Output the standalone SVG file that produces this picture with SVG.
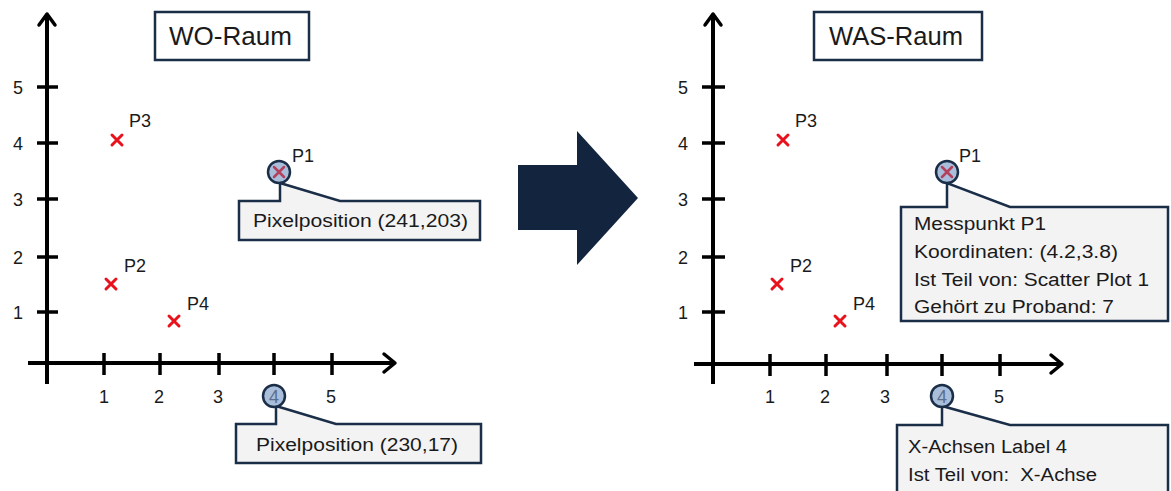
<svg xmlns="http://www.w3.org/2000/svg" xmlns:xlink="http://www.w3.org/1999/xlink" width="1171" height="491" viewBox="0 0 1171 491">
  <style>
    text { font-family: "Liberation Sans", Arial, sans-serif; fill: #1a1a1a; }
    .axis { stroke: #000; stroke-width: 4; fill: none; }
    .tick { stroke: #000; stroke-width: 3.5; }
    .head { stroke: #000; stroke-width: 3.5; fill: none; stroke-linecap: round; stroke-linejoin: round; }
    .num { font-size: 18px; text-anchor: middle; }
    .plab { font-size: 18px; }
    .cross { stroke: #e8121c; stroke-width: 3; stroke-linecap: round; }
    .crossHl { stroke: #b4405c; stroke-width: 2.5; stroke-linecap: round; }
    .ring { fill: #a9bedb; stroke: #1b2e48; stroke-width: 2.5; }
    .callout { fill: #f3f3f4; stroke: #1b2e48; stroke-width: 2.5; stroke-linejoin: miter; }
    .title { fill: #fff; stroke: #1b2e48; stroke-width: 2.5; }
    .ttext { font-size: 26px; }
    .ctext { font-size: 18px; }
    .ringNum { font-size: 18px; text-anchor: middle; fill: #5a6f8e; }
  </style>

  <!-- left plot: position space -->
  <g id="wo-plot">
    <g id="wo-axes">
      <line class="axis" x1="47" y1="15" x2="47" y2="384"/>
      <line class="axis" x1="28" y1="363" x2="394" y2="363"/>
      <polyline class="head" points="39,25 47,14 55,25"/>
      <polyline class="head" points="384,354 395,363 384,372"/>
      <line class="tick" x1="37" y1="87" x2="58" y2="87"/>
      <line class="tick" x1="37" y1="143" x2="58" y2="143"/>
      <line class="tick" x1="37" y1="199" x2="58" y2="199"/>
      <line class="tick" x1="37" y1="257" x2="58" y2="257"/>
      <line class="tick" x1="37" y1="312" x2="58" y2="312"/>
      <line class="tick" x1="104" y1="353" x2="104" y2="375"/>
      <line class="tick" x1="160" y1="353" x2="160" y2="375"/>
      <line class="tick" x1="219" y1="353" x2="219" y2="375"/>
      <line class="tick" x1="274" y1="353" x2="274" y2="375"/>
      <line class="tick" x1="332" y1="353" x2="332" y2="375"/>
      <text class="num" x="18" y="94">5</text>
      <text class="num" x="18" y="150">4</text>
      <text class="num" x="18" y="206">3</text>
      <text class="num" x="18" y="264">2</text>
      <text class="num" x="18" y="319">1</text>
      <text class="num" x="104" y="403">1</text>
      <text class="num" x="159" y="403">2</text>
      <text class="num" x="218" y="403">3</text>
      <text class="num" x="331" y="403">5</text>
    </g>
    <g id="wo-p3">
      <path class="cross" d="M112,135 L122,145 M122,135 L112,145"/>
      <text class="plab" x="129" y="127">P3</text>
    </g>
    <g id="wo-p2">
      <path class="cross" d="M106,279 L116,289 M116,279 L106,289"/>
      <text class="plab" x="124" y="272">P2</text>
    </g>
    <g id="wo-p4">
      <path class="cross" d="M169,316 L179,326 M179,316 L169,326"/>
      <text class="plab" x="187" y="310">P4</text>
    </g>
    <g id="wo-p1-callout">
      <path class="callout" d="M239,201 H280 V183 L340,201 H480 V240 H239 Z"/>
      <text class="ctext" x="253" y="227" textLength="215" lengthAdjust="spacingAndGlyphs">Pixelposition (241,203)</text>
    </g>
    <g id="wo-p1">
      <circle class="ring" cx="279" cy="172" r="11"/>
      <path class="crossHl" d="M274,167 L284,177 M284,167 L274,177"/>
      <text class="plab" x="292" y="162">P1</text>
    </g>
    <g id="wo-x4-callout">
      <path class="callout" d="M236,424 H276 V406 L336,424 H481 V463 H236 Z"/>
      <text class="ctext" x="256" y="451" textLength="202" lengthAdjust="spacingAndGlyphs">Pixelposition (230,17)</text>
    </g>
    <g id="wo-x4">
      <circle class="ring" cx="274" cy="396" r="11"/>
      <text class="ringNum" x="274" y="402.5">4</text>
    </g>
    <g id="wo-title">
      <rect class="title" x="155" y="12" width="154" height="48"/>
      <text class="ttext" x="169" y="45" textLength="123" lengthAdjust="spacingAndGlyphs">WO-Raum</text>
    </g>
  </g>

  <!-- transition arrow -->
  <g id="transition">
    <polygon points="518,165 577,165 577,131 638,198 577,265 577,230 518,230" fill="#13243f"/>
  </g>

  <!-- right plot: semantic space -->
  <g id="was-plot">
    <g id="was-axes">
      <line class="axis" x1="713" y1="15" x2="713" y2="384"/>
      <line class="axis" x1="694" y1="364" x2="1061" y2="364"/>
      <polyline class="head" points="705,25 713,14 721,25"/>
      <polyline class="head" points="1051,355 1062,364 1051,373"/>
      <line class="tick" x1="702" y1="87" x2="725" y2="87"/>
      <line class="tick" x1="702" y1="143" x2="725" y2="143"/>
      <line class="tick" x1="702" y1="199" x2="725" y2="199"/>
      <line class="tick" x1="702" y1="257" x2="725" y2="257"/>
      <line class="tick" x1="702" y1="312" x2="725" y2="312"/>
      <line class="tick" x1="770" y1="354" x2="770" y2="376"/>
      <line class="tick" x1="826" y1="354" x2="826" y2="376"/>
      <line class="tick" x1="887" y1="354" x2="887" y2="376"/>
      <line class="tick" x1="942" y1="354" x2="942" y2="376"/>
      <line class="tick" x1="1000" y1="354" x2="1000" y2="376"/>
      <text class="num" x="683" y="94">5</text>
      <text class="num" x="683" y="150">4</text>
      <text class="num" x="683" y="206">3</text>
      <text class="num" x="683" y="264">2</text>
      <text class="num" x="683" y="319">1</text>
      <text class="num" x="770" y="403">1</text>
      <text class="num" x="825" y="403">2</text>
      <text class="num" x="885" y="403">3</text>
      <text class="num" x="999" y="403">5</text>
    </g>
    <g id="was-p3">
      <path class="cross" d="M778,135 L788,145 M788,135 L778,145"/>
      <text class="plab" x="795" y="127">P3</text>
    </g>
    <g id="was-p2">
      <path class="cross" d="M772,279 L782,289 M782,279 L772,289"/>
      <text class="plab" x="790" y="272">P2</text>
    </g>
    <g id="was-p4">
      <path class="cross" d="M835,316 L845,326 M845,316 L835,326"/>
      <text class="plab" x="853" y="310">P4</text>
    </g>
    <g id="was-p1-callout">
      <path class="callout" d="M901,207 H947 V183 L1010,207 H1168 V321 H901 Z"/>
      <text class="ctext" x="914" y="230" textLength="132" lengthAdjust="spacingAndGlyphs">Messpunkt P1</text>
      <text class="ctext" x="914" y="258" textLength="204" lengthAdjust="spacingAndGlyphs">Koordinaten: (4.2,3.8)</text>
      <text class="ctext" x="914" y="286" textLength="235" lengthAdjust="spacingAndGlyphs">Ist Teil von: Scatter Plot 1</text>
      <text class="ctext" x="914" y="313" textLength="200" lengthAdjust="spacingAndGlyphs">Gehört zu Proband: 7</text>
    </g>
    <g id="was-p1">
      <circle class="ring" cx="947" cy="172" r="11"/>
      <path class="crossHl" d="M942,167 L952,177 M952,167 L942,177"/>
      <text class="plab" x="959" y="162">P1</text>
    </g>
    <g id="was-x4-callout">
      <path class="callout" d="M897,425 H942 V406 L1010,425 H1168 V500 H897 Z"/>
      <text class="ctext" x="908" y="453" textLength="159" lengthAdjust="spacingAndGlyphs">X-Achsen Label 4</text>
      <text class="ctext" x="908" y="481" textLength="189" lengthAdjust="spacingAndGlyphs" xml:space="preserve">Ist Teil von:  X-Achse</text>
    </g>
    <g id="was-x4">
      <circle class="ring" cx="942" cy="396" r="11"/>
      <text class="ringNum" x="942" y="402.5">4</text>
    </g>
    <g id="was-title">
      <rect class="title" x="814" y="12" width="168" height="48"/>
      <text class="ttext" x="829" y="45" textLength="134" lengthAdjust="spacingAndGlyphs">WAS-Raum</text>
    </g>
  </g>
</svg>
